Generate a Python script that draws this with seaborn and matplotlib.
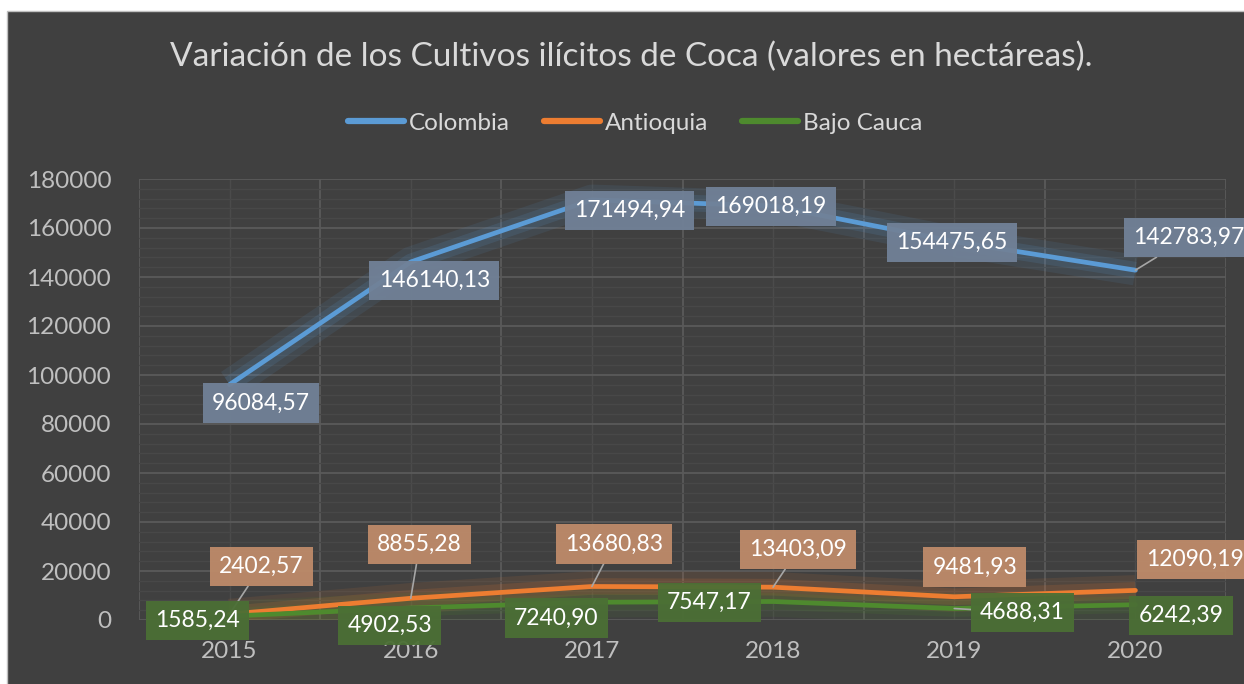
import numpy as np
import pandas as pd
import matplotlib
matplotlib.use("Agg")
import matplotlib.pyplot as plt
import seaborn as sns
from matplotlib.patches import Rectangle

# ---------------- data ----------------
years = ["2015", "2016", "2017", "2018", "2019", "2020"]
colombia = [96084.57, 146140.13, 171494.94, 169018.19, 154475.65, 142783.97]
antioquia = [2402.57, 8855.28, 13680.83, 13403.09, 9481.93, 12090.19]
bajo_cauca = [1585.24, 4902.53, 7240.90, 7547.17, 4688.31, 6242.39]
series_names = ["Colombia", "Antioquia", "Bajo Cauca"]
y_ticks = list(range(0, 180001, 20000))
title = "Variación de los Cultivos ilícitos de Coca (valores en hectáreas)."

# ---------------- styles ----------------
line_colors = ["#5B9BD5", "#ED7D31", "#4E8A2E"]
box_colors = ["#718197", "#BE8B6A", "#4B6F35"]
BG = "#404040"
FONT = ["Lato", "DejaVu Sans"]

# label offsets in pixels (x right, y up)
label_offsets = [
    [(31.5, -18.4), (23.5, -18.5), (37.5, -10.7), (-2, -0.6), (-2.5, -1), (53, 32.7)],
    [(31.5, 47.6), (9, 53.8), (22, 42.5), (25.3, 37.7), (20.5, 29.8), (59.5, 31)],
    [(-32.5, -4.4), (-21, -17.5), (-35.5, -15.7), (-64, -1), (68, -4), (45.5, -10.8)],
]
leaders = [
    [False, False, False, False, False, True],
    [True, True, True, True, False, False],
    [False, False, False, False, True, False],
]

all_series = [colombia, antioquia, bajo_cauca]
pos = np.arange(len(years))
df = pd.DataFrame({
    "pos": np.tile(pos, len(series_names)),
    "valor": np.concatenate(all_series),
    "serie": np.repeat(series_names, len(years)),
})

sns.set_style("dark")
plt.rcParams["font.family"] = FONT

W, H = 1244, 684
fig = plt.figure(figsize=(W / 100, H / 100), dpi=100)
fig.patch.set_facecolor("white")
fig.patches.append(Rectangle((7 / W, -0.01), 1.02, 1 - 11 / H + 0.01, transform=fig.transFigure,
                             facecolor=BG, edgecolor="#BFBFBF", lw=1.0, zorder=-10))

ax = fig.add_axes([139 / W, (H - 620) / H, (1226 - 139) / W, (620 - 179) / H])
ax.set_facecolor("none")

# glow under lines
for vals, c in zip(all_series, line_colors):
    ax.plot(pos, vals, color=c, lw=22, alpha=0.10, solid_capstyle="butt", zorder=2)
    ax.plot(pos, vals, color=c, lw=12, alpha=0.14, solid_capstyle="butt", zorder=2)

sns.lineplot(data=df, x="pos", y="valor", hue="serie", hue_order=series_names,
             palette=line_colors, lw=3.4, ax=ax, zorder=4, legend=True)

ax.set_xlim(-0.5, len(years) - 0.5)
ax.set_ylim(0, 180000)
ax.set_xticks(pos)
ax.set_xticklabels(years)
ax.set_xticks(np.arange(-0.5, len(years), 1), minor=True)
ax.set_yticks(y_ticks)
ax.set_yticklabels([str(t) for t in y_ticks])
ax.set_yticks(np.arange(0, 180001, 4000), minor=True)
ax.set_xlabel("")
ax.set_ylabel("")
for s in ax.spines.values():
    s.set_visible(False)

ax.xaxis.grid(True, which="major", color="#4B4B4B", lw=1)
ax.xaxis.grid(True, which="minor", color="#5A5A5A", lw=1.3)
ax.yaxis.grid(True, which="major", color="#5A5A5A", lw=1.3)
ax.yaxis.grid(True, which="minor", color="#484848", lw=0.9)
ax.set_axisbelow(True)

ax.tick_params(axis="both", which="both", length=0, colors="#BFBFBF", labelsize=17.5)
ax.tick_params(axis="y", pad=20)
ax.tick_params(axis="x", pad=15)

# data labels
for si, (vals, bc) in enumerate(zip(all_series, box_colors)):
    for i, v in enumerate(vals):
        dx, dy = label_offsets[si][i]
        txt = f"{v:.2f}".replace(".", ",")
        kw = {}
        if leaders[si][i]:
            kw["arrowprops"] = dict(arrowstyle="-", color="#A6A6A6", lw=1.2, shrinkA=0, shrinkB=0)
        ax.annotate(txt, xy=(i, v), xytext=(dx, dy), textcoords="offset pixels",
                    ha="center", va="center", fontsize=16.5, color="white",
                    bbox=dict(boxstyle="square,pad=0.4", fc=bc, ec="none", alpha=0.95),
                    zorder=6, annotation_clip=False, **kw)

# legend
handles, labels = ax.get_legend_handles_labels()
ax.get_legend().remove()
for h in handles:
    h.set_linewidth(4.5)
leg = fig.legend(handles, labels, loc="center", bbox_to_anchor=(635 / W, (H - 123) / H),
                 ncol=3, frameon=False, fontsize=17.5, handlelength=2.3, handletextpad=0.2,
                 columnspacing=1.4)
for t in leg.get_texts():
    t.set_color("#D9D9D9")

fig.text(631 / W, (H - 57) / H, title, ha="center", va="center", fontsize=24, color="#D9D9D9")

fig.savefig("out.png", dpi=100, facecolor=fig.get_facecolor())
